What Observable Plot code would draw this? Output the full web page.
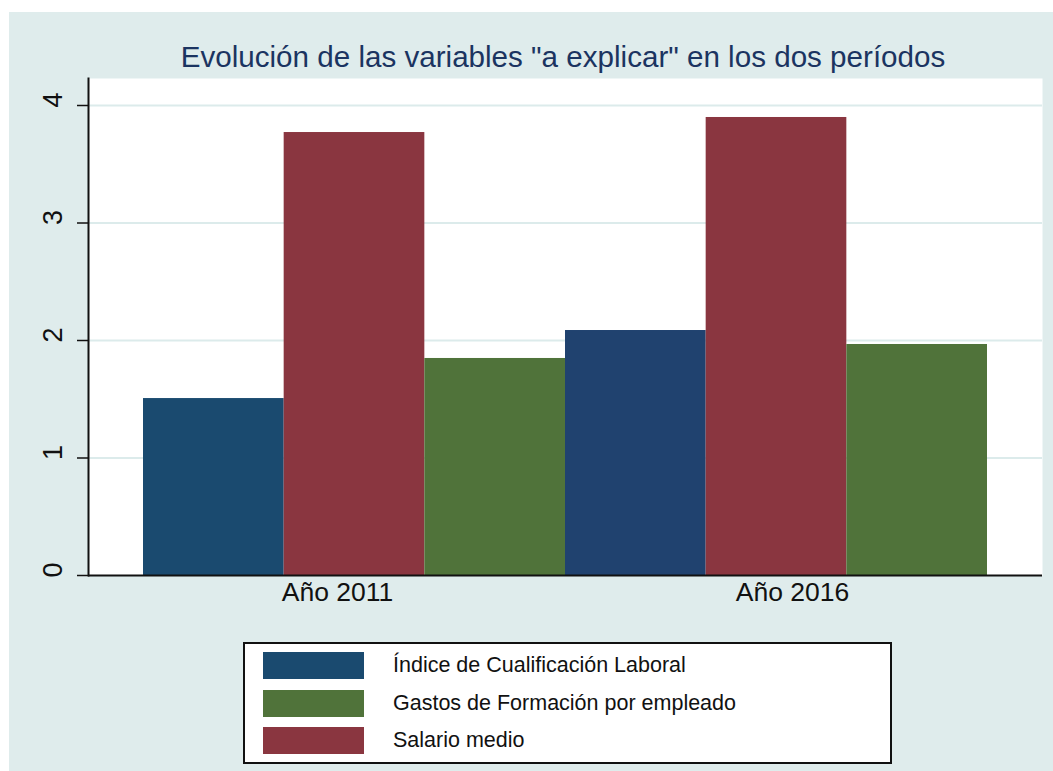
<!DOCTYPE html>
<html>
<head>
<meta charset="utf-8">
<script src="https://cdn.jsdelivr.net/npm/d3@7"></script>
<script src="https://cdn.jsdelivr.net/npm/@observablehq/plot@0.6"></script>
<style>
  html, body { margin: 0; padding: 0; background: #ffffff; }
  body { width: 1053px; height: 771px; position: relative; overflow: hidden;
         font-family: "Liberation Sans", Arial, Helvetica, sans-serif; }
  #fig { position: absolute; left: 9px; top: 12px; width: 1044px; height: 759px; background: #dfecec; }
  #title { position: absolute; left: 554px; top: 30px; transform: translateX(-50%);
           white-space: nowrap; font-size: 29.6px; line-height: 29.6px; color: #1b3461; }
  #chart { position: absolute; left: 0; top: 0; }
  #legend { position: absolute; left: 234px; top: 630px; width: 649px; height: 122px;
            box-sizing: border-box; border: 2px solid #111; background: #ffffff; }
  .sw { position: absolute; left: 18px; width: 101px; height: 27px; }
  .lt { position: absolute; left: 148px; font-size: 21.5px; line-height: 27px; color: #111; white-space: nowrap; }
</style>
</head>
<body>
<div id="fig">
  <div id="title"></div>
  <div id="chart"></div>
  <div id="legend"></div>
</div>
<script>
// ---- data ----
const titleText = "Evolución de las variables \"a explicar\" en los dos períodos";
const years = ["Año 2011", "Año 2016"];
const seriesNames = ["Índice de Cualificación Laboral", "Salario medio", "Gastos de Formación por empleado"];
const indiceValues = [1.506, 2.085];
const salarioValues = [3.770, 3.898];
const gastosValues = [1.847, 1.966];
const yTicks = [0, 1, 2, 3, 4];
const legendNames = ["Índice de Cualificación Laboral", "Gastos de Formación por empleado", "Salario medio"];
const seriesColors = ["#1a4a6f", "#8a3640", "#50733a"];
const altIndiceColor2016 = "#20426f";

// ---- build table ----
const valuesBySeries = [indiceValues, salarioValues, gastosValues];
const rows = [];
years.forEach((year, yi) => {
  seriesNames.forEach((s, si) => {
    rows.push({year, series: s, si, yi, key: year + "|" + s, value: valuesBySeries[si][yi]});
  });
});
const colorOf = d => (d.si === 0 && d.yi === 1) ? altIndiceColor2016 : seriesColors[d.si];

const labelRows = years.map(y => ({year: y, key: y + "|" + seriesNames[1]}));

document.getElementById("title").textContent = titleText;

const plot = Plot.plot({
  width: 1044,
  height: 613,
  marginLeft: 79,
  marginRight: 11,
  marginTop: 66,
  marginBottom: 50,
  style: {background: "transparent", fontFamily: "\"Liberation Sans\", Arial, Helvetica, sans-serif", color: "#111"},
  x: {type: "band", domain: rows.map(d => d.key), paddingInner: 0, paddingOuter: 0.391, round: false, axis: null},
  y: {domain: [0, 4.2298], axis: null},
  marks: [
    Plot.frame({fill: "white", stroke: "none"}),
    Plot.ruleY(yTicks.filter(t => t > 0), {stroke: "#dcebeb", strokeWidth: 1.8}),
    Plot.barY(rows, {x: "key", y: "value", fill: colorOf, inset: 0}),
    Plot.frame({anchor: "left", stroke: "#111", strokeWidth: 2}),
    Plot.ruleY([0], {stroke: "#111", strokeWidth: 2}),
    Plot.axisY({ticks: yTicks, tickSize: 11, tickFormat: () => "", label: null, stroke: "#111", strokeWidth: 1.5}),
    Plot.text(yTicks, {y: d => d, text: d => String(d), frameAnchor: "left", rotate: -90, dx: -35, dy: 2, fontSize: 27, fill: "#111"}),
    Plot.text(labelRows.slice(0, 1), {x: "key", text: "year", frameAnchor: "bottom", dy: 25, dx: -17, fontSize: 26.5, fill: "#111"}),
    Plot.text(labelRows.slice(1), {x: "key", text: "year", frameAnchor: "bottom", dy: 25, dx: 16, fontSize: 26.5, fill: "#111"})
  ]
});
document.getElementById("chart").appendChild(plot);

// ---- legend ----
const legend = document.getElementById("legend");
legendNames.forEach((name, i) => {
  const top = [8, 46, 83][i];
  const sw = document.createElement("div");
  sw.className = "sw";
  sw.style.top = top + "px";
  sw.style.background = seriesColors[seriesNames.indexOf(name)];
  legend.appendChild(sw);
  const t = document.createElement("div");
  t.className = "lt";
  t.style.top = top + "px";
  t.textContent = name;
  legend.appendChild(t);
});
</script>
</body>
</html>
